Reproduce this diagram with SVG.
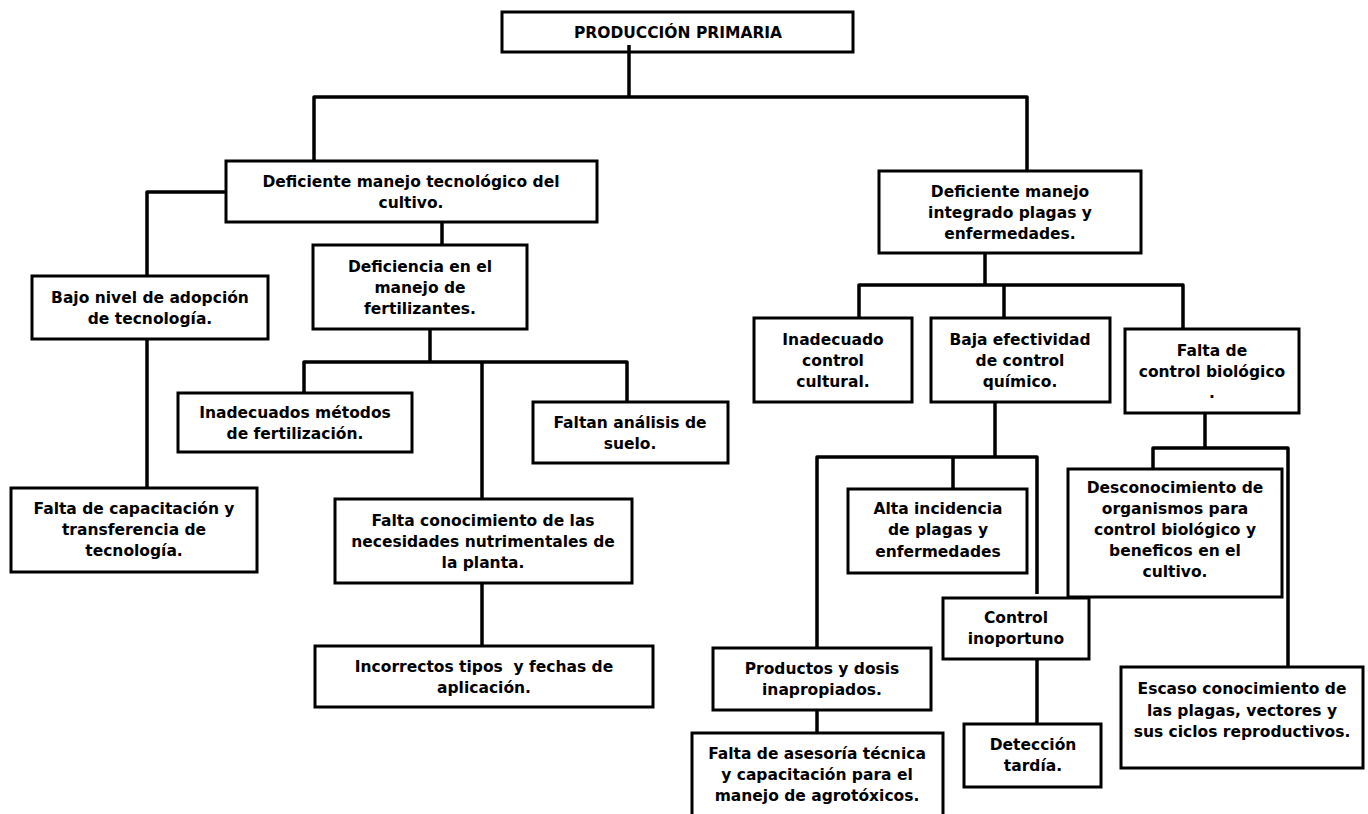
<svg xmlns="http://www.w3.org/2000/svg" width="1368" height="814" viewBox="0 0 1368 814">
  <style>
    .box { fill: #ffffff; stroke: #000000; stroke-width: 3; }
    .ln { fill: none; stroke: #000000; stroke-width: 3.5; stroke-linejoin: round; }
    text { font-family: "DejaVu Sans", "Liberation Sans", Arial, sans-serif; font-weight: bold; font-size: 15.5px; text-anchor: middle; fill: #000000; }
  </style>
  <rect width="1368" height="814" fill="#ffffff"/>

  <!-- root -->
  <g id="n-root">
    <rect class="box" x="502" y="12" width="351" height="40"/>
    <text x="678" y="37.5">PRODUCCIÓN PRIMARIA</text>
  </g>

  <!-- left branch: crop technology -->
  <g id="n-tecnologico">
    <rect class="box" x="226" y="161" width="371" height="61"/>
    <text x="411"><tspan x="411" y="186.5">Deficiente manejo tecnológico del</tspan><tspan x="411" y="207.5">cultivo.</tspan></text>
  </g>
  <g id="n-bajo-nivel">
    <rect class="box" x="32" y="276" width="236" height="63"/>
    <text><tspan x="150" y="302.5">Bajo nivel de adopción</tspan><tspan x="150" y="323.5">de tecnología.</tspan></text>
  </g>
  <g id="n-capacitacion">
    <rect class="box" x="11" y="488" width="246" height="84"/>
    <text><tspan x="134" y="513.5">Falta de capacitación y</tspan><tspan x="134" y="534.5">transferencia de</tspan><tspan x="134" y="555.5">tecnología.</tspan></text>
  </g>
  <g id="n-fertilizantes">
    <rect class="box" x="313" y="245" width="214" height="84"/>
    <text><tspan x="420" y="271.5">Deficiencia en el</tspan><tspan x="420" y="292.5">manejo de</tspan><tspan x="420" y="313.5">fertilizantes.</tspan></text>
  </g>
  <g id="n-metodos">
    <rect class="box" x="178" y="393" width="234" height="59"/>
    <text><tspan x="295" y="417.5">Inadecuados métodos</tspan><tspan x="295" y="438.5">de fertilización.</tspan></text>
  </g>
  <g id="n-suelo">
    <rect class="box" x="533" y="402" width="195" height="61"/>
    <text><tspan x="630" y="427.5">Faltan análisis de</tspan><tspan x="630" y="448.5">suelo.</tspan></text>
  </g>
  <g id="n-nutrimentales">
    <rect class="box" x="335" y="499" width="297" height="84"/>
    <text><tspan x="483" y="525.5">Falta conocimiento de las</tspan><tspan x="483" y="546.5">necesidades nutrimentales de</tspan><tspan x="483" y="567.5">la planta.</tspan></text>
  </g>
  <g id="n-fechas">
    <rect class="box" x="315" y="646" width="338" height="61"/>
    <text style="white-space: pre"><tspan x="484" y="671.5">Incorrectos tipos  y fechas de</tspan><tspan x="484" y="692.5">aplicación.</tspan></text>
  </g>

  <!-- right branch: integrated pest management -->
  <g id="n-plagas">
    <rect class="box" x="879" y="171" width="262" height="82"/>
    <text><tspan x="1010" y="196.5">Deficiente manejo</tspan><tspan x="1010" y="217.5">integrado plagas y</tspan><tspan x="1010" y="238.5">enfermedades.</tspan></text>
  </g>
  <g id="n-cultural">
    <rect class="box" x="754" y="318" width="158" height="84"/>
    <text><tspan x="833" y="344.5">Inadecuado</tspan><tspan x="833" y="365.5">control</tspan><tspan x="833" y="386.5">cultural.</tspan></text>
  </g>
  <g id="n-quimico">
    <rect class="box" x="931" y="318" width="179" height="84"/>
    <text><tspan x="1020" y="344.5">Baja efectividad</tspan><tspan x="1020" y="365.5">de control</tspan><tspan x="1020" y="386.5">químico.</tspan></text>
  </g>
  <g id="n-biologico">
    <rect class="box" x="1125" y="329" width="174" height="84"/>
    <text><tspan x="1212" y="355.5">Falta de</tspan><tspan x="1212" y="376.5">control biológico</tspan><tspan x="1212" y="397.5">.</tspan></text>
  </g>
  <g id="n-incidencia">
    <rect class="box" x="848" y="489" width="179" height="84"/>
    <text><tspan x="938" y="513.5">Alta incidencia</tspan><tspan x="938" y="535">de plagas y</tspan><tspan x="938" y="556.5">enfermedades</tspan></text>
  </g>
  <g id="n-productos">
    <rect class="box" x="713" y="648" width="218" height="62"/>
    <text><tspan x="822" y="673.5">Productos y dosis</tspan><tspan x="822" y="694.5">inapropiados.</tspan></text>
  </g>
  <g id="n-asesoria">
    <rect class="box" x="692" y="733" width="251" height="90"/>
    <text><tspan x="817" y="758.5">Falta de asesoría técnica</tspan><tspan x="817" y="779.5">y capacitación para el</tspan><tspan x="817" y="800.5">manejo de agrotóxicos.</tspan></text>
  </g>
  <g id="n-organismos">
    <rect class="box" x="1068" y="469" width="214" height="128"/>
    <text><tspan x="1175" y="492.5">Desconocimiento de</tspan><tspan x="1175" y="513.5">organismos para</tspan><tspan x="1175" y="534.5">control biológico y</tspan><tspan x="1175" y="555.5">beneficos en el</tspan><tspan x="1175" y="577">cultivo.</tspan></text>
  </g>
  <g id="n-inoportuno">
    <rect class="box" x="943" y="598" width="146" height="61"/>
    <text><tspan x="1016" y="622.5">Control</tspan><tspan x="1016" y="643.5">inoportuno</tspan></text>
  </g>
  <g id="n-deteccion">
    <rect class="box" x="964" y="724" width="137" height="63"/>
    <text><tspan x="1033" y="749.5">Detección</tspan><tspan x="1033" y="770.5">tardía.</tspan></text>
  </g>
  <g id="n-escaso">
    <rect class="box" x="1121" y="667" width="242" height="101"/>
    <text><tspan x="1242" y="693.5">Escaso conocimiento de</tspan><tspan x="1242" y="715.5">las plagas, vectores y</tspan><tspan x="1242" y="736.5">sus ciclos reproductivos.</tspan></text>
  </g>

  <!-- connectors -->
  <g id="connectors" class="ln">
    <path class="ln" d="M629,45 V97"/>
    <path class="ln" d="M314,161 V97 H1027 V171"/>
    <path class="ln" d="M226,192 H147 V276"/>
    <path class="ln" d="M147,339 V488"/>
    <path class="ln" d="M442,222 V245"/>
    <path class="ln" d="M430,329 V362"/>
    <path class="ln" d="M304,393 V362 H627 V402"/>
    <path class="ln" d="M482,362 V499"/>
    <path class="ln" d="M482,583 V646"/>
    <path class="ln" d="M985,253 V285"/>
    <path class="ln" d="M859,318 V285 H1183 V329"/>
    <path class="ln" d="M1004,285 V318"/>
    <path class="ln" d="M995,402 V457"/>
    <path class="ln" d="M817,648 V457 H1037 V594"/>
    <path class="ln" d="M953,457 V489"/>
    <path class="ln" d="M817,710 V733"/>
    <path class="ln" d="M1037,659 V724"/>
    <path class="ln" d="M1205,413 V448"/>
    <path class="ln" d="M1153,469 V448 H1288 V667"/>
  </g>
</svg>
